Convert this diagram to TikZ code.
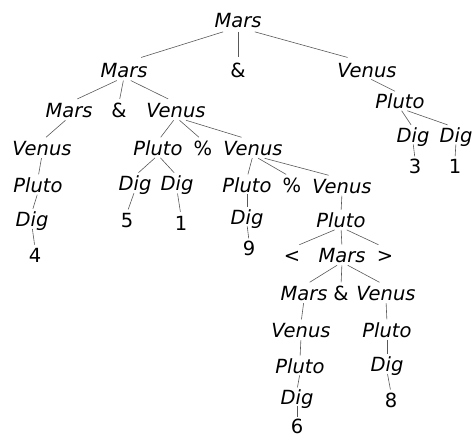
\documentclass[tikz,border=0pt]{standalone}
\usepackage{fontspec}
\setmainfont{DejaVu Sans}
\usetikzlibrary{calc}
\begin{document}
\begin{tikzpicture}[
    x=1pt, y=-1pt,
    word/.style={inner sep=0pt, anchor=base, text height=14pt, text depth=0pt,
                 font=\fontsize{19.5}{20}\selectfont\itshape},
    sym/.style={word, font=\fontsize{19.5}{20}\selectfont\upshape},
    edge/.style={draw=black!65, line width=0.6pt}
]
    \useasboundingbox (0,0) rectangle (474,437);

    % top levels
    \node[word] (mars0) at (238,27) {Mars};
    \node[word] (mars1) at (124,77) {Mars};
    \node[sym]  (amp1) at (238,77) {\&};
    \node[word] (venus1) at (367,77) {Venus};

    % left branch
    \node[word] (mars2) at (69,117) {Mars};
    \node[sym]  (amp2) at (119,117) {\&};
    \node[word] (venus2) at (176,117) {Venus};
    \node[word] (venus3) at (42,155) {Venus};
    \node[word] (pluto3) at (38,192) {Pluto};
    \node[word] (dig4) at (32,226) {Dig};
    \node[sym]  (num4) at (35,262) {4};

    % middle branch
    \node[word] (pluto2) at (158,155) {Pluto};
    \node[sym]  (pct2) at (203,155) {\%};
    \node[word] (venus4) at (253,155) {Venus};
    \node[word] (dig5) at (135,190) {Dig};
    \node[word] (dig1b) at (177,190) {Dig};
    \node[sym]  (num5) at (127,227) {5};
    \node[sym]  (num1b) at (181,230) {1};
    \node[word] (pluto4) at (247,192) {Pluto};
    \node[sym]  (pct4) at (292,192) {\%};
    \node[word] (venus5) at (342,193) {Venus};
    \node[word] (dig9) at (247,224) {Dig};
    \node[sym]  (num9) at (249,255) {9};
    \node[word] (pluto5) at (341,227) {Pluto};
    \node[sym]  (lt) at (292,262) {<};
    \node[word] (mars3) at (342,262) {Mars};
    \node[sym]  (gt) at (385,262) {>};
    \node[word] (mars4) at (304,300) {Mars};
    \node[sym]  (amp4) at (341,300) {\&};
    \node[word] (venus6) at (386,300) {Venus};
    \node[word] (venus7) at (301,337) {Venus};
    \node[word] (pluto7) at (300,373) {Pluto};
    \node[word] (dig6) at (297,404) {Dig};
    \node[sym]  (num6) at (297,433) {6};
    \node[word] (pluto6) at (387,337) {Pluto};
    \node[word] (dig8) at (387,371) {Dig};
    \node[sym]  (num8) at (391,407) {8};

    % right branch
    \node[word] (pluto1) at (400,108) {Pluto};
    \node[word] (dig3) at (413,142) {Dig};
    \node[word] (dig1r) at (456,142) {Dig};
    \node[sym]  (num3) at (415,173) {3};
    \node[sym]  (num1r) at (455,173) {1};

    % edges
    \foreach \from/\to in {mars0/mars1, mars0/amp1, mars0/venus1,
        mars1/mars2, mars1/amp2, mars1/venus2, venus1/pluto1,
        mars2/venus3, venus3/pluto3, pluto3/dig4, dig4/num4,
        venus2/pluto2, venus2/pct2, venus2/venus4,
        pluto2/dig5, pluto2/dig1b, dig5/num5, dig1b/num1b,
        venus4/pluto4, venus4/pct4, venus4/venus5,
        pluto4/dig9, dig9/num9, venus5/pluto5,
        pluto5/lt, pluto5/mars3, pluto5/gt,
        mars3/mars4, mars3/amp4, mars3/venus6,
        mars4/venus7, venus7/pluto7, pluto7/dig6, dig6/num6,
        venus6/pluto6, pluto6/dig8, dig8/num8,
        pluto1/dig3, pluto1/dig1r, dig3/num3, dig1r/num1r}
        \draw[edge] ($(\from.south)!0.13!(\to.north)$) -- ($(\from.south)!0.85!(\to.north)$);
\end{tikzpicture}
\end{document}
